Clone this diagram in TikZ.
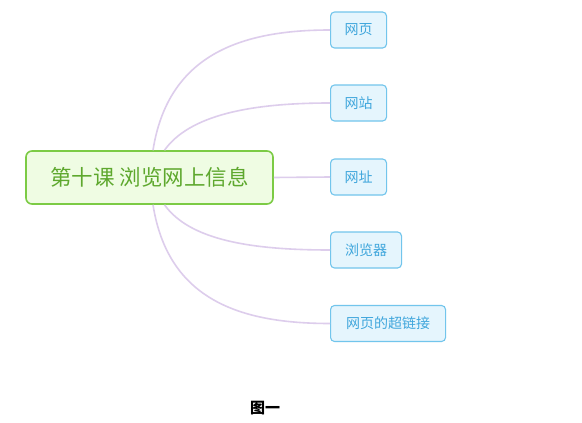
\documentclass[tikz,border=0pt]{standalone}
\usepackage{fontspec}
\newfontfamily\cjk{Noto Sans CJK SC}
\definecolor{rootborder}{HTML}{7CCB45}
\definecolor{rootfill}{HTML}{EFFCE3}
\definecolor{roottext}{HTML}{5EA82E}
\definecolor{kidborder}{HTML}{72C5EC}
\definecolor{kidfill}{HTML}{E5F5FD}
\definecolor{kidtext}{HTML}{3FA6DC}
\definecolor{linkcol}{HTML}{DDCDEC}
\tikzset{
  rootbox/.style={draw=rootborder, fill=rootfill, line width=1.6pt, rounded corners=6pt,
    minimum width=247pt, minimum height=53pt, inner sep=0pt,
    text=roottext, font=\cjk\fontsize{21.5}{24}\selectfont},
  kidbox/.style={draw=kidborder, fill=kidfill, line width=1.1pt, rounded corners=4pt,
    minimum height=36pt, inner xsep=14pt, inner ysep=0pt,
    text=kidtext, font=\cjk\fontsize{14}{16}\selectfont},
  link/.style={draw=linkcol, line width=1.6pt},
  captionstyle/.style={font=\cjk\bfseries\fontsize{15}{17}\selectfont, text=black}
}
\begin{document}
\begin{tikzpicture}[x=1pt,y=-1pt]
\useasboundingbox[fill=white] (0,0) rectangle (582,423);
\node[rootbox] (root) at (149.5,177.5) {第十课 浏览网上信息};
\node[kidbox, anchor=west, minimum width=56pt] (k1) at (330,30) {网页};
\node[kidbox, anchor=west, minimum width=56pt] (k2) at (330,103) {网站};
\node[kidbox, anchor=west, minimum width=56pt] (k3) at (330,177) {网址};
\node[kidbox, anchor=west, minimum width=71pt] (k4) at (330,250) {浏览器};
\node[kidbox, anchor=west, minimum width=115pt] (k5) at (330,323.5) {网页的超链接};
\node[captionstyle] (cap) at (265,408) {图一};
\draw[link] ([xshift=3.5pt]root.north) .. controls +(15,-95) and +(-90,0) .. (k1.west);
\draw[link] ([xshift=15pt]root.north) .. controls +(25,-35) and +(-80,0) .. (k2.west);
\draw[link] (root.east) -- (k3.west);
\draw[link] ([xshift=15pt]root.south) .. controls +(25,35) and +(-80,0) .. (k4.west);
\draw[link] ([xshift=3.5pt]root.south) .. controls +(15,95) and +(-90,0) .. (k5.west);
\end{tikzpicture}
\end{document}
